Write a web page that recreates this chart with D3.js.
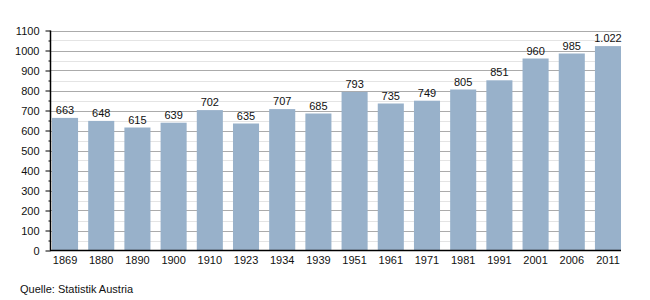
<!DOCTYPE html>
<html>
<head>
<meta charset="utf-8">
<script src="https://cdn.jsdelivr.net/npm/d3@7"></script>
<style>
  body { margin: 0; background: #fff; }
  text { font-family: "Liberation Sans", Arial, sans-serif; }
</style>
</head>
<body>
<div id="chart"></div>
<script>
const years = ["1869", "1880", "1890", "1900", "1910", "1923", "1934", "1939",
               "1951", "1961", "1971", "1981", "1991", "2001", "2006", "2011"];
const values = [663, 648, 615, 639, 702, 635, 707, 685, 793, 735, 749, 805, 851, 960, 985, 1022];
const yMax = 1100;
const source = "Quelle: Statistik Austria";

const w = 650,
      h = 300;

const plot = {left: 50, right: 621, top: 30.5, bottom: 250.5};

const svg = d3.select("#chart")
  .append("svg")
  .attr("width", w)
  .attr("height", h);

const x = d3.scaleBand()
  .domain(years)
  .range([52, 621])
  .paddingInner(0.28)
  .paddingOuter(0);

const y = d3.scaleLinear()
  .domain([0, yMax])
  .range([plot.bottom, plot.top]);

// minor gridlines (every 50)
const minor = d3.range(50, yMax, 100);
svg.append("g")
  .selectAll("line")
  .data(minor)
  .enter()
  .append("line")
  .attr("x1", plot.left)
  .attr("x2", plot.right)
  .attr("y1", d => Math.round(y(d)) + 0.5)
  .attr("y2", d => Math.round(y(d)) + 0.5)
  .attr("stroke", "#e4e4e4");

// major gridlines
svg.append("g")
  .selectAll("line")
  .data(d3.range(100, yMax + 1, 100))
  .enter()
  .append("line")
  .attr("x1", plot.left)
  .attr("x2", plot.right)
  .attr("y1", d => Math.round(y(d)) + 0.5)
  .attr("y2", d => Math.round(y(d)) + 0.5)
  .attr("stroke", "#ababab");

// bars
svg.append("g")
  .selectAll("rect")
  .data(values)
  .enter()
  .append("rect")
  .attr("x", (d, i) => x(years[i]))
  .attr("y", d => y(d))
  .attr("width", x.bandwidth())
  .attr("height", d => y(0) - y(d))
  .attr("fill", "#98b1ca");

// value labels, German thousands separator
const fmt = d => d >= 1000 ? d3.format(",")(d).replace(",", ".") : String(d);
svg.append("g")
  .selectAll("text")
  .data(values)
  .enter()
  .append("text")
  .attr("x", (d, i) => x(years[i]) + x.bandwidth() / 2)
  .attr("y", d => y(d) - 4)
  .attr("text-anchor", "middle")
  .attr("font-size", 11)
  .attr("fill", "#111")
  .text(fmt);

// y axis
const yAxis = d3.axisLeft(y)
  .tickValues(d3.range(0, yMax + 1, 100))
  .tickFormat(d3.format("d"))
  .tickSize(5)
  .tickPadding(6);

const yAxisGroup = svg.append("g")
  .attr("transform", "translate(" + (plot.left + 0.5) + ",0)")
  .call(yAxis);
yAxisGroup.select(".domain").remove();
yAxisGroup.selectAll("text").attr("font-size", 11).attr("fill", "#111")
  .style("font-family", "'Liberation Sans', Arial, sans-serif");
yAxisGroup.selectAll("line").attr("stroke", "#000");

const yMinor = d3.axisLeft(y)
  .tickValues(minor)
  .tickSize(2)
  .tickFormat("");
const yMinorGroup = svg.append("g")
  .attr("transform", "translate(" + (plot.left + 0.5) + ",0)")
  .call(yMinor);
yMinorGroup.select(".domain").remove();
yMinorGroup.selectAll("line").attr("stroke", "#000");

svg.append("line")
  .attr("x1", plot.left + 0.5).attr("x2", plot.left + 0.5)
  .attr("y1", plot.top).attr("y2", plot.bottom)
  .attr("stroke", "#000").attr("stroke-width", 1.5);

// x axis
const xAxis = d3.axisBottom(x).tickSize(0).tickPadding(6);
const xAxisGroup = svg.append("g")
  .attr("transform", "translate(0," + plot.bottom + ")")
  .call(xAxis);
xAxisGroup.select(".domain").remove();
xAxisGroup.selectAll("text").attr("font-size", 11).attr("fill", "#111")
  .style("font-family", "'Liberation Sans', Arial, sans-serif");

svg.append("line")
  .attr("x1", plot.left).attr("x2", plot.right)
  .attr("y1", plot.bottom).attr("y2", plot.bottom)
  .attr("stroke", "#000").attr("stroke-width", 1.5);

svg.append("text")
  .attr("x", 20)
  .attr("y", 293)
  .attr("font-size", 11)
  .attr("fill", "#111")
  .text(source);
</script>
</body>
</html>
